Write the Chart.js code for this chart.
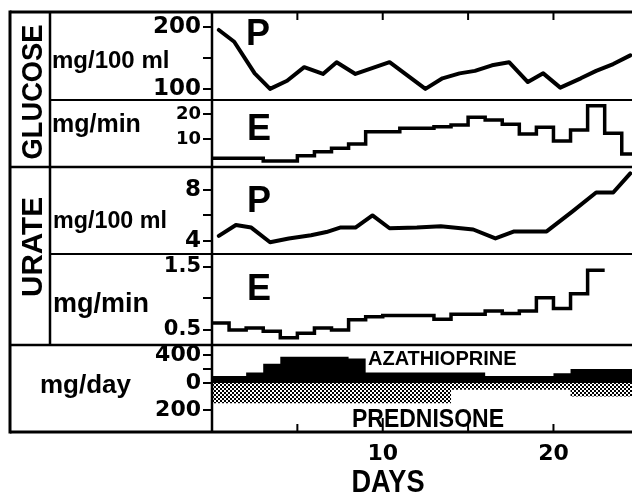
<!DOCTYPE html>
<html>
<head>
<meta charset="utf-8">
<script src="https://cdn.jsdelivr.net/npm/chart.js@4.4.1/dist/chart.umd.min.js"></script>
<style>
  html, body { margin: 0; padding: 0; background: #fff; }
  #wrap { position: relative; width: 632px; height: 495px; }
</style>
</head>
<body>
<div id="wrap"><canvas id="chart" width="632" height="495"></canvas></div>
<script>
// 血糖 (plasma, mg/100 ml)
const glucosePDays = [0.4, 1.3, 2.5, 3.4, 4.4, 5.4, 6.5, 7.3, 8.4, 10.4, 12.5, 13.5, 14.5, 15.4, 16.4, 17.4, 18.5, 19.4, 20.4, 21.6, 22.5, 23.5, 24.5];
const glucoseP = [195, 176, 125, 100, 113, 135, 124, 143, 124, 143, 100, 117, 125, 129, 138, 143, 111, 125, 102, 117, 129, 140, 154];

// 血糖 excretion (mg/min), step values from each day
const glucoseEDays = [0, 3, 5, 6, 7, 8, 9, 11, 13, 14, 15, 16, 17, 18, 19, 20, 21, 22, 23, 24, 24.6];
const glucoseE = [2.3, 1.2, 3.3, 4.9, 6.3, 8, 12.9, 14.3, 14.9, 15.6, 18.7, 17.6, 15.9, 12, 14.7, 9.2, 13.6, 23.3, 12.3, 4, 4];

// urate plasma (mg/100 ml)
const uratePDays = [0.4, 1.4, 2.3, 3.4, 4.5, 5.8, 6.7, 7.5, 8.4, 9.4, 10.4, 12.0, 13.4, 15.3, 16.6, 17.7, 19.6, 21.1, 22.5, 23.5, 24.5];
const urateP = [4.4, 5.25, 5.05, 3.9, 4.2, 4.45, 4.7, 5.05, 5.05, 6.0, 5.0, 5.05, 5.15, 4.9, 4.2, 4.75, 4.75, 6.3, 7.8, 7.8, 9.3];

// urate excretion (mg/min)
const urateEDays = [0, 1, 2, 3, 4, 5, 6, 7, 8, 9, 10, 13, 14, 16, 17, 18, 19, 20, 21, 22, 23];
const urateE = [0.61, 0.5, 0.53, 0.48, 0.38, 0.45, 0.53, 0.5, 0.66, 0.71, 0.73, 0.67, 0.75, 0.8, 0.76, 0.8, 1.01, 0.84, 1.07, 1.44, 1.44];

// drugs (mg/day)
const azaDays = [0, 2, 3, 4, 8, 9, 16, 20, 21, 24.6];
const aza = [100, 150, 275, 375, 350, 150, 100, 140, 200, 200];
const predDays = [0, 14, 21, 24.6];
const pred = [150, 50, 100, 100];

// ticks
const xTicks = [5, 10, 15, 20];
const xLabels = [10, 20];
const gluPTicks = [100, 150, 200], gluPLabels = [100, 200];
const gluETicks = [10, 20], gluELabels = [10, 20];
const uraPTicks = [4, 6, 8], uraPLabels = [4, 8];
const uraETicks = [0.5, 1, 1.5], uraELabels = [0.5, 1.5];
const azaTicks = [200, 400], azaLabels = [400];
const predTicks = [0, 200], predLabels = [0, 200];

Chart.defaults.animation = false;
Chart.defaults.color = '#000';

function pts(xs, ys) {
    return xs.map((x, i) => ({ x: x, y: ys[i] }));
}

// 点状填充 (stipple)
function dotPattern() {
    const c = document.createElement('canvas');
    c.width = 4; c.height = 4;
    const g = c.getContext('2d');
    g.fillStyle = '#000';
    g.fillRect(0, 0, 2, 2);
    g.fillRect(2, 2, 2, 2);
    return g.createPattern(c, 'repeat');
}

function yAxis(min, max, weight, stackWeight, ticks, labels, size, reverse) {
    return {
        type: 'linear', position: 'left', stack: 'panels',
        stackWeight: stackWeight, weight: weight,
        min: min, max: max, reverse: !!reverse,
        border: { display: false },
        grid: { drawOnChartArea: false, drawTicks: true, tickLength: 9, color: '#000', lineWidth: 2 },
        ticks: {
            color: '#000', padding: 2, autoSkip: false,
            font: { family: 'DejaVu Sans', weight: 'bold', size: size },
            callback: v => labels.includes(v) ? String(v) : ''
        },
        afterBuildTicks: sc => { sc.ticks = ticks.map(v => ({ value: v })); },
        afterFit: sc => { sc.width = 212; sc.paddingTop = 0; sc.paddingBottom = 0; }
    };
}

const frame = {
    id: 'frame',
    afterDatasetsDraw(chart) {
        const ctx = chart.ctx, a = chart.chartArea, s = chart.scales;
        const R = chart.width;
        ctx.save();
        ctx.strokeStyle = '#000';
        const seg = (x1, y1, x2, y2, w) => {
            ctx.lineWidth = w;
            ctx.beginPath();
            ctx.moveTo(x1, y1);
            ctx.lineTo(x2, y2);
            ctx.stroke();
        };
        seg(10, a.top, R, a.top, 3);
        seg(10, a.top - 1.5, 10, a.bottom + 1.5, 3);
        seg(10, a.bottom, R, a.bottom, 3);
        seg(50, a.top, 50, s.aza.top, 2.5);
        seg(a.left, a.top, a.left, a.bottom, 2.5);
        seg(50, s.gluE.top, R, s.gluE.top, 2);
        seg(10, s.uraP.top, R, s.uraP.top, 2.5);
        seg(50, s.uraE.top, R, s.uraE.top, 2);
        seg(10, s.aza.top, R, s.aza.top, 2.5);
        xTicks.forEach(d => {
            const px = s.x.getPixelForValue(d);
            seg(px, a.top, px, a.top + 8, 2);
            seg(px, a.bottom, px, a.bottom - (d === 10 ? 14 : 8), 2);
        });
        ctx.restore();
    },
    afterDraw(chart) {
        const ctx = chart.ctx;
        ctx.save();
        ctx.fillStyle = '#000';
        const txt = (str, x, y, size, maxW, align) => {
            ctx.font = 'bold ' + size + 'px "Liberation Sans", Arial, sans-serif';
            ctx.textAlign = align || 'left';
            ctx.textBaseline = 'alphabetic';
            ctx.fillText(str, x, y, maxW);
        };
        const vtxt = (str, cx, cy, size, maxW) => {
            ctx.save();
            ctx.translate(cx, cy);
            ctx.rotate(-Math.PI / 2);
            txt(str, 0, size * 0.716 / 2, size, maxW, 'center');
            ctx.restore();
        };
        vtxt('GLUCOSE', 31, 92, 30, 135);
        vtxt('URATE', 31, 247, 30, 100);
        txt('mg/100 ml', 52, 68, 24, 120);
        txt('mg/min', 52, 132, 25, 93);
        txt('mg/100 ml', 53, 228, 24, 114);
        txt('mg/min', 53, 312, 27, 99);
        txt('mg/day', 40, 393, 26, 97);
        txt('P', 246, 45, 36);
        txt('E', 247, 140, 36);
        txt('P', 247, 212, 36);
        txt('E', 247, 300, 36);
        txt('AZATHIOPRINE', 368, 365, 20, 150);
        txt('PREDNISONE', 352, 427, 26, 152);
        txt('DAYS', 388, 492, 31, 73, 'center');
        ctx.restore();
    }
};

const ctx = document.getElementById('chart').getContext('2d');
new Chart(ctx, {
    type: 'line',
    data: {
        datasets: [{
            data: pts(glucosePDays, glucoseP),
            yAxisID: 'gluP', borderColor: '#000', borderWidth: 4, pointRadius: 0,
            tension: 0, borderJoinStyle: 'round', borderCapStyle: 'round'
        }, {
            data: pts(glucoseEDays, glucoseE),
            yAxisID: 'gluE', borderColor: '#000', borderWidth: 3.5, pointRadius: 0,
            stepped: true
        }, {
            data: pts(uratePDays, urateP),
            yAxisID: 'uraP', borderColor: '#000', borderWidth: 4, pointRadius: 0,
            tension: 0, borderJoinStyle: 'round', borderCapStyle: 'round'
        }, {
            data: pts(urateEDays, urateE),
            yAxisID: 'uraE', borderColor: '#000', borderWidth: 3.5, pointRadius: 0,
            stepped: true
        }, {
            data: pts(azaDays, aza),
            yAxisID: 'aza', borderColor: '#000', borderWidth: 0, pointRadius: 0,
            stepped: true, fill: 'origin', backgroundColor: '#000'
        }, {
            data: pts(predDays, pred),
            yAxisID: 'pred', borderColor: 'rgba(0,0,0,0)', borderWidth: 0, pointRadius: 0,
            stepped: true, fill: 'origin', backgroundColor: dotPattern()
        }]
    },
    options: {
        responsive: false,
        layout: { padding: { top: 12, left: 0, right: 0, bottom: 0 } },
        plugins: { legend: { display: false }, tooltip: { enabled: false } },
        scales: {
            x: {
                type: 'linear', position: 'bottom', min: 0, max: 24.6,
                border: { display: false },
                grid: { display: false, drawTicks: false },
                ticks: {
                    color: '#000', padding: 9, autoSkip: false, maxRotation: 0,
                    font: { family: 'DejaVu Sans', weight: 'bold', size: 22 },
                    callback: v => xLabels.includes(v) ? String(v) : ''
                },
                afterBuildTicks: sc => { sc.ticks = xTicks.map(v => ({ value: v })); },
                afterFit: sc => { sc.height = 63; sc.paddingLeft = 0; sc.paddingRight = 0; }
            },
            gluP: yAxis(82, 224, 6, 88, gluPTicks, gluPLabels, 23),
            gluE: yAxis(-1.2, 25.6, 5, 67, gluETicks, gluELabels, 18),
            uraP: yAxis(2.98, 9.8, 4, 87, uraPTicks, uraPLabels, 23),
            uraE: yAxis(0.264, 1.697, 3, 91, uraETicks, uraELabels, 21),
            aza: yAxis(0, 543, 2, 38, azaTicks, azaLabels, 22),
            pred: yAxis(0, 363, 1, 49, predTicks, predLabels, 22, true)
        }
    },
    plugins: [frame]
});
</script>
</body>
</html>
